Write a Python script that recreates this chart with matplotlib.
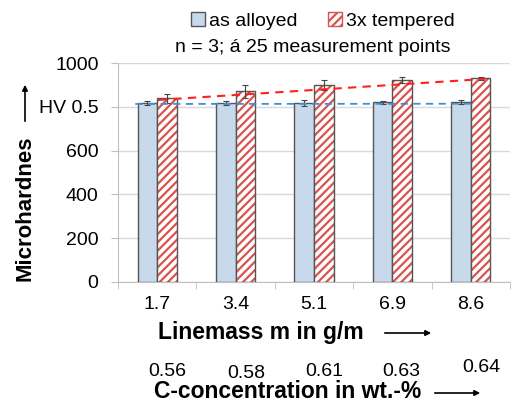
import numpy as np
import matplotlib
matplotlib.use("Agg")
import matplotlib.pyplot as plt
from matplotlib.patches import Patch, FancyArrowPatch

plt.rcParams['font.family'] = ['Liberation Sans', 'DejaVu Sans']
plt.rcParams['hatch.linewidth'] = 1.6

linemass = ["1.7", "3.4", "5.1", "6.9", "8.6"]
c_conc = ["0.56", "0.58", "0.61", "0.63", "0.64"]
as_alloyed = [818, 817, 817, 820, 821]
as_alloyed_err = [10, 10, 14, 8, 8]
tempered = [838, 870, 900, 922, 930]
tempered_err = [20, 28, 22, 12, 8]
# trend line values read at the first and last category
as_alloyed_trend = [813, 814]
tempered_trend = [831, 923]
ytick_vals = [0, 200, 400, 600, 800, 1000]
ytick_labels = ["0", "200", "400", "600", "HV 0.5", "1000"]

blue_face = "#c9d9ec"
red_hatch = "#d9534f"
edge = "#555555"
grid_c = "#d9d9d9"

fig = plt.figure(figsize=(5.11, 4.05), dpi=100)
ax = fig.add_axes([118/511, 1-282/405, (510-118)/511, (282-63)/405])

x = np.arange(len(linemass))
w = 0.25
ekw = dict(ecolor="#444444", elinewidth=0.8, capsize=2, capthick=0.8)
ax.bar(x - w/2, as_alloyed, w, color=blue_face, edgecolor=edge, linewidth=1.0,
       yerr=as_alloyed_err, error_kw=ekw, zorder=3)
# hatched bars: hatch in red, outline in dark grey
ax.bar(x + w/2, tempered, w, color="white", edgecolor=red_hatch, linewidth=0, hatch="////", zorder=3)
ax.bar(x + w/2, tempered, w, fill=False, edgecolor=edge, linewidth=1.0,
       yerr=tempered_err, error_kw=ekw, zorder=3.5)

# linear trend lines
xb = np.array([-0.28, 4.0])
xr = np.array([0.02, 4.18])
pb = np.polyfit([0, 4], as_alloyed_trend, 1)
pr = np.polyfit([0, 4], tempered_trend, 1)
ax.plot(xb, np.polyval(pb, xb), ls=(0, (4, 3)), color="#3d8fd6", lw=1.3, zorder=4)
ax.plot(xr, np.polyval(pr, xr), ls=(0, (4, 3)), color="#ff2020", lw=1.5, zorder=4)

ax.set_xlim(-0.5, 4.5)
ax.set_ylim(0, 1000)
ax.set_yticks(ytick_vals)
ax.set_yticklabels(ytick_labels, fontsize=14)
ax.set_xticks(x)
ax.set_xticklabels(linemass, fontsize=14)
ax.set_xticks(np.arange(-0.5, 5, 1), minor=True)
ax.tick_params(axis='x', which='major', length=0, pad=10)
ax.tick_params(axis='x', which='minor', length=5, color="#bfbfbf", direction='out')
ax.tick_params(axis='y', length=5, color="#bfbfbf", pad=9)
ax.grid(axis='y', color=grid_c, lw=1.0, zorder=0)
for s in ['top', 'right']:
    ax.spines[s].set_visible(False)
for s in ['left', 'bottom']:
    ax.spines[s].set_color("#bfbfbf")
ax.set_axisbelow(True)

# legend
plt.rcParams['hatch.color'] = red_hatch
handles = [Patch(facecolor=blue_face, edgecolor=edge, label="as alloyed"),
           Patch(facecolor="white", edgecolor=red_hatch, hatch="////", label="3x tempered")]
fig.legend(handles=handles, loc='center', bbox_to_anchor=(323/511, 1-21/405), ncol=2,
           frameon=False, fontsize=14, handlelength=0.7, handleheight=0.7,
           handletextpad=0.2, columnspacing=1.6, borderpad=0)
fig.text(313/511, 1-47/405, "n = 3; á 25 measurement points", fontsize=14, ha='center', va='center')

def arrow(p0, p1):
    fig.add_artist(FancyArrowPatch((p0[0]/511, 1-p0[1]/405), (p1[0]/511, 1-p1[1]/405),
                   transform=fig.transFigure, arrowstyle='-|>', mutation_scale=8,
                   lw=1.2, color='black'))

# y label with arrow
fig.text(25/511, 1-208/405, "Microhardnes", fontsize=16, fontweight='bold', rotation=90,
         ha='center', va='center')
arrow((25, 124), (25, 82))

# x label with arrow
fig.text(261/511, 1-332/405, "Linemass m in g/m", fontsize=16.5, fontweight='bold',
         ha='center', va='center')
arrow((382, 333), (434, 333))

# second x row: C-concentration
c_xpix = [167, 246, 324, 401, 481]
c_ypix = [371, 373, 371, 371, 368]
for lab, xp, yp in zip(c_conc, c_xpix, c_ypix):
    fig.text(xp/511, 1-yp/405, lab, fontsize=14, ha='center', va='center')
fig.text(288/511, 1-392/405, "C-concentration in wt.-%", fontsize=16.5, fontweight='bold',
         ha='center', va='center')
arrow((432, 393), (483, 393))

fig.savefig("out.png", dpi=100)
